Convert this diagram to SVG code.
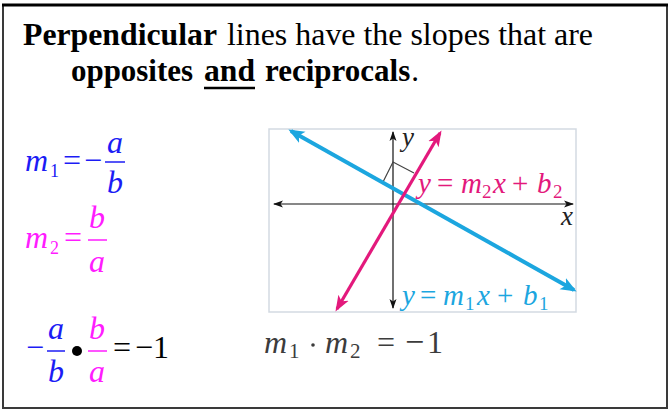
<svg xmlns="http://www.w3.org/2000/svg" width="668" height="410" viewBox="0 0 668 410">
<style>
text{font-family:"Liberation Serif","Times New Roman",serif}
.i{font-style:italic}
.b{font-weight:bold}
.blue{fill:#1c1cf5}
.mag{fill:#ff1cff}
.cy{fill:#1ca6df}
.pk{fill:#e3197c}
.gr{fill:#3c3c3c}
</style>
<defs>
<marker id="mb" markerWidth="18" markerHeight="16" refX="13" refY="8" orient="auto-start-reverse" markerUnits="userSpaceOnUse"><path d="M0,1.5 L16,8 L0,14.5 L4,8 Z" fill="#1ca6df"/></marker>
<marker id="mp" markerWidth="18" markerHeight="16" refX="13" refY="8" orient="auto-start-reverse" markerUnits="userSpaceOnUse"><path d="M0,2 L16,8 L0,14 L4,8 Z" fill="#e3197c"/></marker>
<marker id="ma" markerWidth="10" markerHeight="8" refX="9" refY="4" orient="auto-start-reverse" markerUnits="userSpaceOnUse"><path d="M0,0.5 L10,4 L0,7.5 L2.5,4 Z" fill="#111"/></marker>
</defs>
<rect x="0" y="0" width="668" height="410" fill="#fff"/>
<rect x="3" y="5" width="664" height="403" fill="none" stroke="#3a3a3a" stroke-width="2"/>
<line x1="2" y1="5" x2="668" y2="5" stroke="#000" stroke-width="3"/>

<g id="title" font-size="32" fill="#000">
<text x="23" y="45" class="b" textLength="194" lengthAdjust="spacingAndGlyphs">Perpendicular</text>
<text x="227" y="45" textLength="366" lengthAdjust="spacingAndGlyphs">lines have the slopes that are</text>
<text x="71" y="81" class="b" textLength="122" lengthAdjust="spacingAndGlyphs">opposites</text>
<text x="204" y="81" class="b" textLength="51" lengthAdjust="spacingAndGlyphs">and</text>
<line x1="204" y1="88" x2="255" y2="88" stroke="#000" stroke-width="2.5"/>
<text x="265" y="81" font-size="31"><tspan class="b">reciprocals</tspan><tspan dx="1">.</tspan></text>
</g>

<g id="eq-m1" class="blue" font-size="32">
<text x="25" y="171" class="i">m</text>
<text x="50" y="177" font-size="18">1</text>
<text x="63" y="171">=</text>
<text x="84" y="171">−</text>
<line x1="105" y1="162" x2="125" y2="162" stroke="#1c1cf5" stroke-width="1.5"/>
<text x="115" y="153" class="i" text-anchor="middle">a</text>
<text x="115" y="193" class="i" text-anchor="middle">b</text>
</g>

<g id="eq-m2" class="mag" font-size="32">
<text x="25" y="248" class="i">m</text>
<text x="50" y="254" font-size="18">2</text>
<text x="64" y="248">=</text>
<line x1="88" y1="240" x2="107" y2="240" stroke="#ff1cff" stroke-width="1.5"/>
<text x="97" y="228" class="i" text-anchor="middle">b</text>
<text x="97" y="272" class="i" text-anchor="middle">a</text>
</g>

<g id="eq-product" font-size="32">
<text x="26" y="358" class="blue">−</text>
<line x1="47" y1="351" x2="65" y2="351" stroke="#1c1cf5" stroke-width="1.5"/>
<text x="56" y="339" class="i blue" text-anchor="middle">a</text>
<text x="56" y="382" class="i blue" text-anchor="middle">b</text>
<circle cx="77" cy="351" r="5" fill="#000"/>
<line x1="88" y1="351" x2="107" y2="351" stroke="#ff1cff" stroke-width="1.5"/>
<text x="97" y="339" class="i mag" text-anchor="middle">b</text>
<text x="97" y="382" class="i mag" text-anchor="middle">a</text>
<text x="113" y="358" fill="#000">=</text>
<text x="135" y="358" fill="#000">−1</text>
</g>

<g id="graph">
<rect x="269" y="129" width="307" height="183" fill="none" stroke="#d3dae2" stroke-width="1.5"/>
</g>

<g id="connectors">
<line x1="274" y1="204" x2="573" y2="204" stroke="#111" stroke-width="1.2" marker-start="url(#ma)" marker-end="url(#ma)"/>
<line x1="393" y1="132" x2="393" y2="308" stroke="#111" stroke-width="1.2" marker-start="url(#ma)" marker-end="url(#ma)"/>
<path d="M383,182 L393,162 L414,173" fill="none" stroke="#444" stroke-width="1.2"/>
<line x1="291" y1="131" x2="574" y2="290" stroke="#1ca6df" stroke-width="4" marker-start="url(#mb)" marker-end="url(#mb)"/>
<line x1="337" y1="309" x2="440" y2="133" stroke="#e3197c" stroke-width="3.2" marker-start="url(#mp)" marker-end="url(#mp)"/>
</g>

<g id="axis-labels" font-size="27" fill="#222">
<text x="402" y="146" class="i">y</text>
<text x="561" y="225" class="i">x</text>
</g>

<g id="label-l2" class="pk" font-size="29">
<text y="193"><tspan x="418" class="i">y</tspan><tspan x="437">=</tspan><tspan x="461" class="i">m</tspan><tspan x="482" y="198" font-size="19">2</tspan><tspan x="493" y="193" class="i">x</tspan><tspan x="512">+</tspan><tspan x="537" class="i">b</tspan><tspan x="553" y="198" font-size="19">2</tspan></text>
</g>

<g id="label-l1" class="cy" font-size="29">
<text y="305"><tspan x="402" class="i">y</tspan><tspan x="420">=</tspan><tspan x="443" class="i">m</tspan><tspan x="465" y="310" font-size="19">1</tspan><tspan x="477" y="305" class="i">x</tspan><tspan x="497">+</tspan><tspan x="523" class="i">b</tspan><tspan x="539" y="310" font-size="19">1</tspan></text>
</g>

<g id="eq-slopes" class="gr" font-size="32">
<text y="353"><tspan x="264" class="i">m</tspan><tspan x="289" y="358" font-size="21">1</tspan><tspan x="325" y="353" class="i">m</tspan><tspan x="350" y="358" font-size="21">2</tspan><tspan x="377" y="353">=</tspan><tspan x="405" font-size="34">−</tspan><tspan x="427">1</tspan></text>
<circle cx="313" cy="345" r="1.8" fill="#3c3c3c"/>
</g>
</svg>
